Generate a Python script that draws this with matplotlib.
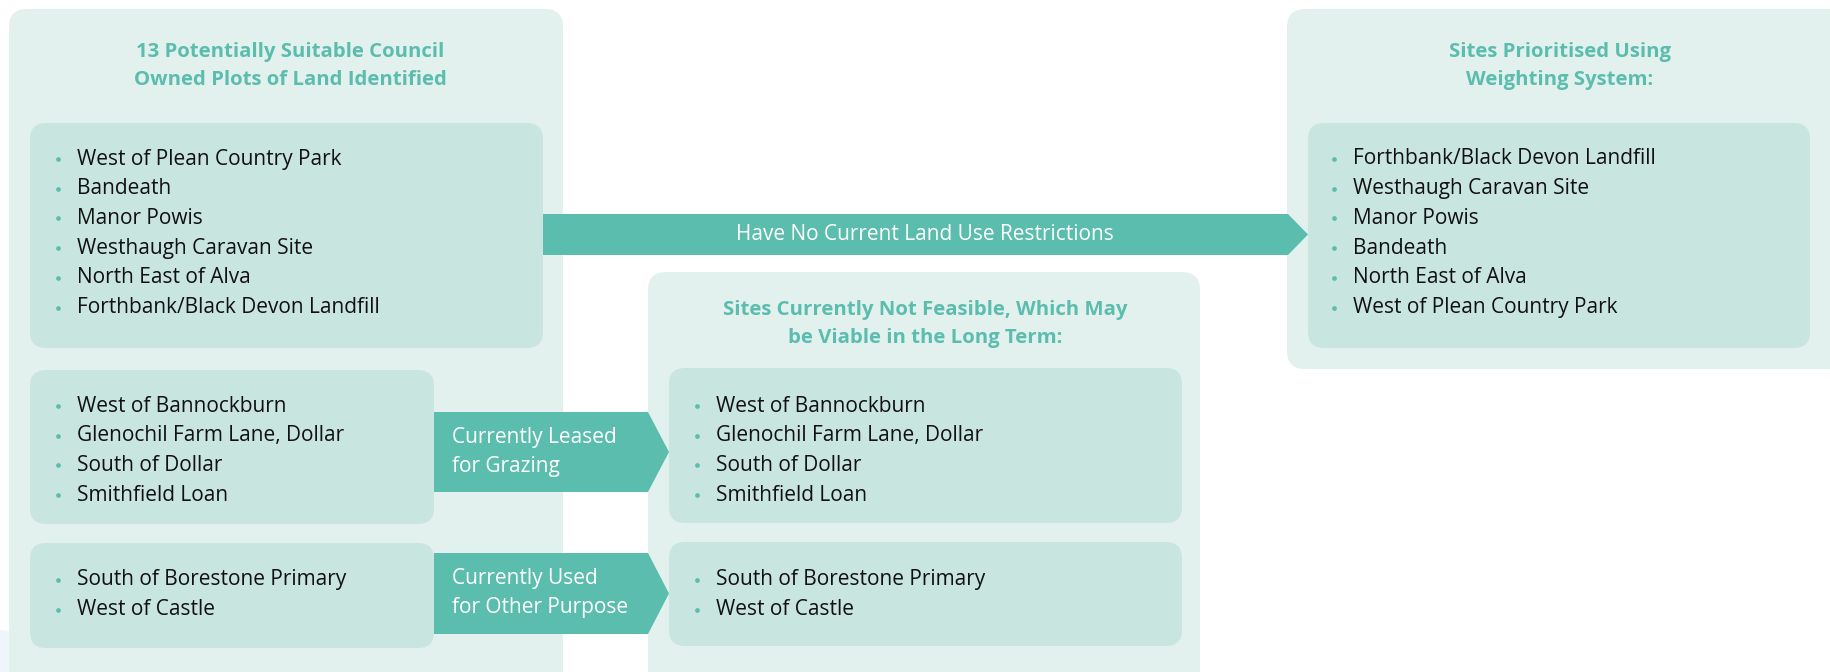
import matplotlib
matplotlib.use("Agg")
import matplotlib.pyplot as plt
from matplotlib.patches import FancyBboxPatch, Polygon

# ── data ───────────────────────────────────────────────────────────────────────
TITLE_LEFT   = "13 Potentially Suitable Council\nOwned Plots of Land Identified"
TITLE_MID    = "Sites Currently Not Feasible, Which May\nbe Viable in the Long Term:"
TITLE_RIGHT  = "Sites Prioritised Using\nWeighting System:"

NO_RESTRICTION = ["West of Plean Country Park", "Bandeath", "Manor Powis",
                  "Westhaugh Caravan Site", "North East of Alva",
                  "Forthbank/Black Devon Landfill"]
GRAZING        = ["West of Bannockburn", "Glenochil Farm Lane, Dollar",
                  "South of Dollar", "Smithfield Loan"]
OTHER_PURPOSE  = ["South of Borestone Primary", "West of Castle"]
PRIORITISED    = ["Forthbank/Black Devon Landfill", "Westhaugh Caravan Site",
                  "Manor Powis", "Bandeath", "North East of Alva",
                  "West of Plean Country Park"]

ARROW_LABELS = ["Have No Current Land Use Restrictions",
                "Currently Leased\nfor Grazing",
                "Currently Used\nfor Other Purpose"]

# ── style ──────────────────────────────────────────────────────────────────────
OUTER  = "#E3F1EE"
INNER  = "#C9E5DF"
TEAL   = "#5BBDAD"
INK    = "#111111"
FONT   = ["Open Sans", "DejaVu Sans"]
LINE   = 29.7   # px between list items

W, H = 1831, 672
fig = plt.figure(figsize=(W / 100, H / 100), dpi=100)
ax = fig.add_axes([0, 0, 1, 1])
ax.set_xlim(0, W)
ax.set_ylim(H, 0)
ax.axis("off")


def box(x0, y0, x1, y1, color, r=16):
    ax.add_patch(FancyBboxPatch((x0, y0), x1 - x0, y1 - y0,
                                boxstyle=f"round,pad=0,rounding_size={r}",
                                fc=color, ec="none", zorder=1))


def items(names, xt, y0):
    for i, name in enumerate(names):
        y = y0 + i * LINE
        ax.plot(xt - 19, y, "o", ms=3.4, color=TEAL, mec="none", zorder=3)
        ax.text(xt, y, name, fontsize=15, color=INK, family=FONT,
                va="center", ha="left", zorder=3)


def arrow(x0, x1, y0, y1, tip=18):
    ym = (y0 + y1) / 2
    ax.add_patch(Polygon([(x0, y0), (x1 - tip, y0), (x1, ym),
                          (x1 - tip, y1), (x0, y1)],
                         closed=True, fc=TEAL, ec="none", zorder=2))


def title(x, y, s):
    ax.text(x, y, s, fontsize=14.7, color=TEAL, family=FONT, weight="bold",
            ha="center", va="center", linespacing=1.5, zorder=3)


# faint background blob bottom-left
ax.add_patch(FancyBboxPatch((-30, 630), 55, 80, boxstyle="round,pad=0,rounding_size=25",
                            fc="#EEF5FB", ec="none", zorder=0))

# outer panels
box(9, 9, 563, 690, OUTER, r=18)
box(648, 272, 1200, 690, OUTER, r=18)
box(1287, 9, 1850, 369, OUTER, r=18)

# inner panels
box(30, 123, 543, 348, INNER)
box(30, 370, 434, 524, INNER)
box(30, 543, 434, 648, INNER)
box(669, 368, 1182, 523, INNER)
box(669, 542, 1182, 646, INNER)
box(1308, 123, 1810, 348, INNER)

# arrows
arrow(543, 1308, 214, 255, tip=20)
arrow(434, 669, 412, 492, tip=21)
arrow(434, 669, 553, 634, tip=21)

ax.text(925, 235, ARROW_LABELS[0], fontsize=15, color="white", family=FONT,
        ha="center", va="center", zorder=3)
ax.text(452, 452, ARROW_LABELS[1], fontsize=15, color="white", family=FONT,
        ha="left", va="center", linespacing=1.45, zorder=3)
ax.text(452, 593, ARROW_LABELS[2], fontsize=15, color="white", family=FONT,
        ha="left", va="center", linespacing=1.45, zorder=3)

# titles
title(290, 66, TITLE_LEFT)
title(925, 324, TITLE_MID)
title(1560, 66, TITLE_RIGHT)

# lists
items(NO_RESTRICTION, 77, 159)
items(GRAZING, 77, 406)
items(OTHER_PURPOSE, 77, 580)
items(GRAZING, 716, 406)
items(OTHER_PURPOSE, 716, 580)
items(PRIORITISED, 1353, 159)

fig.savefig("out.png", dpi=100, facecolor="white")
